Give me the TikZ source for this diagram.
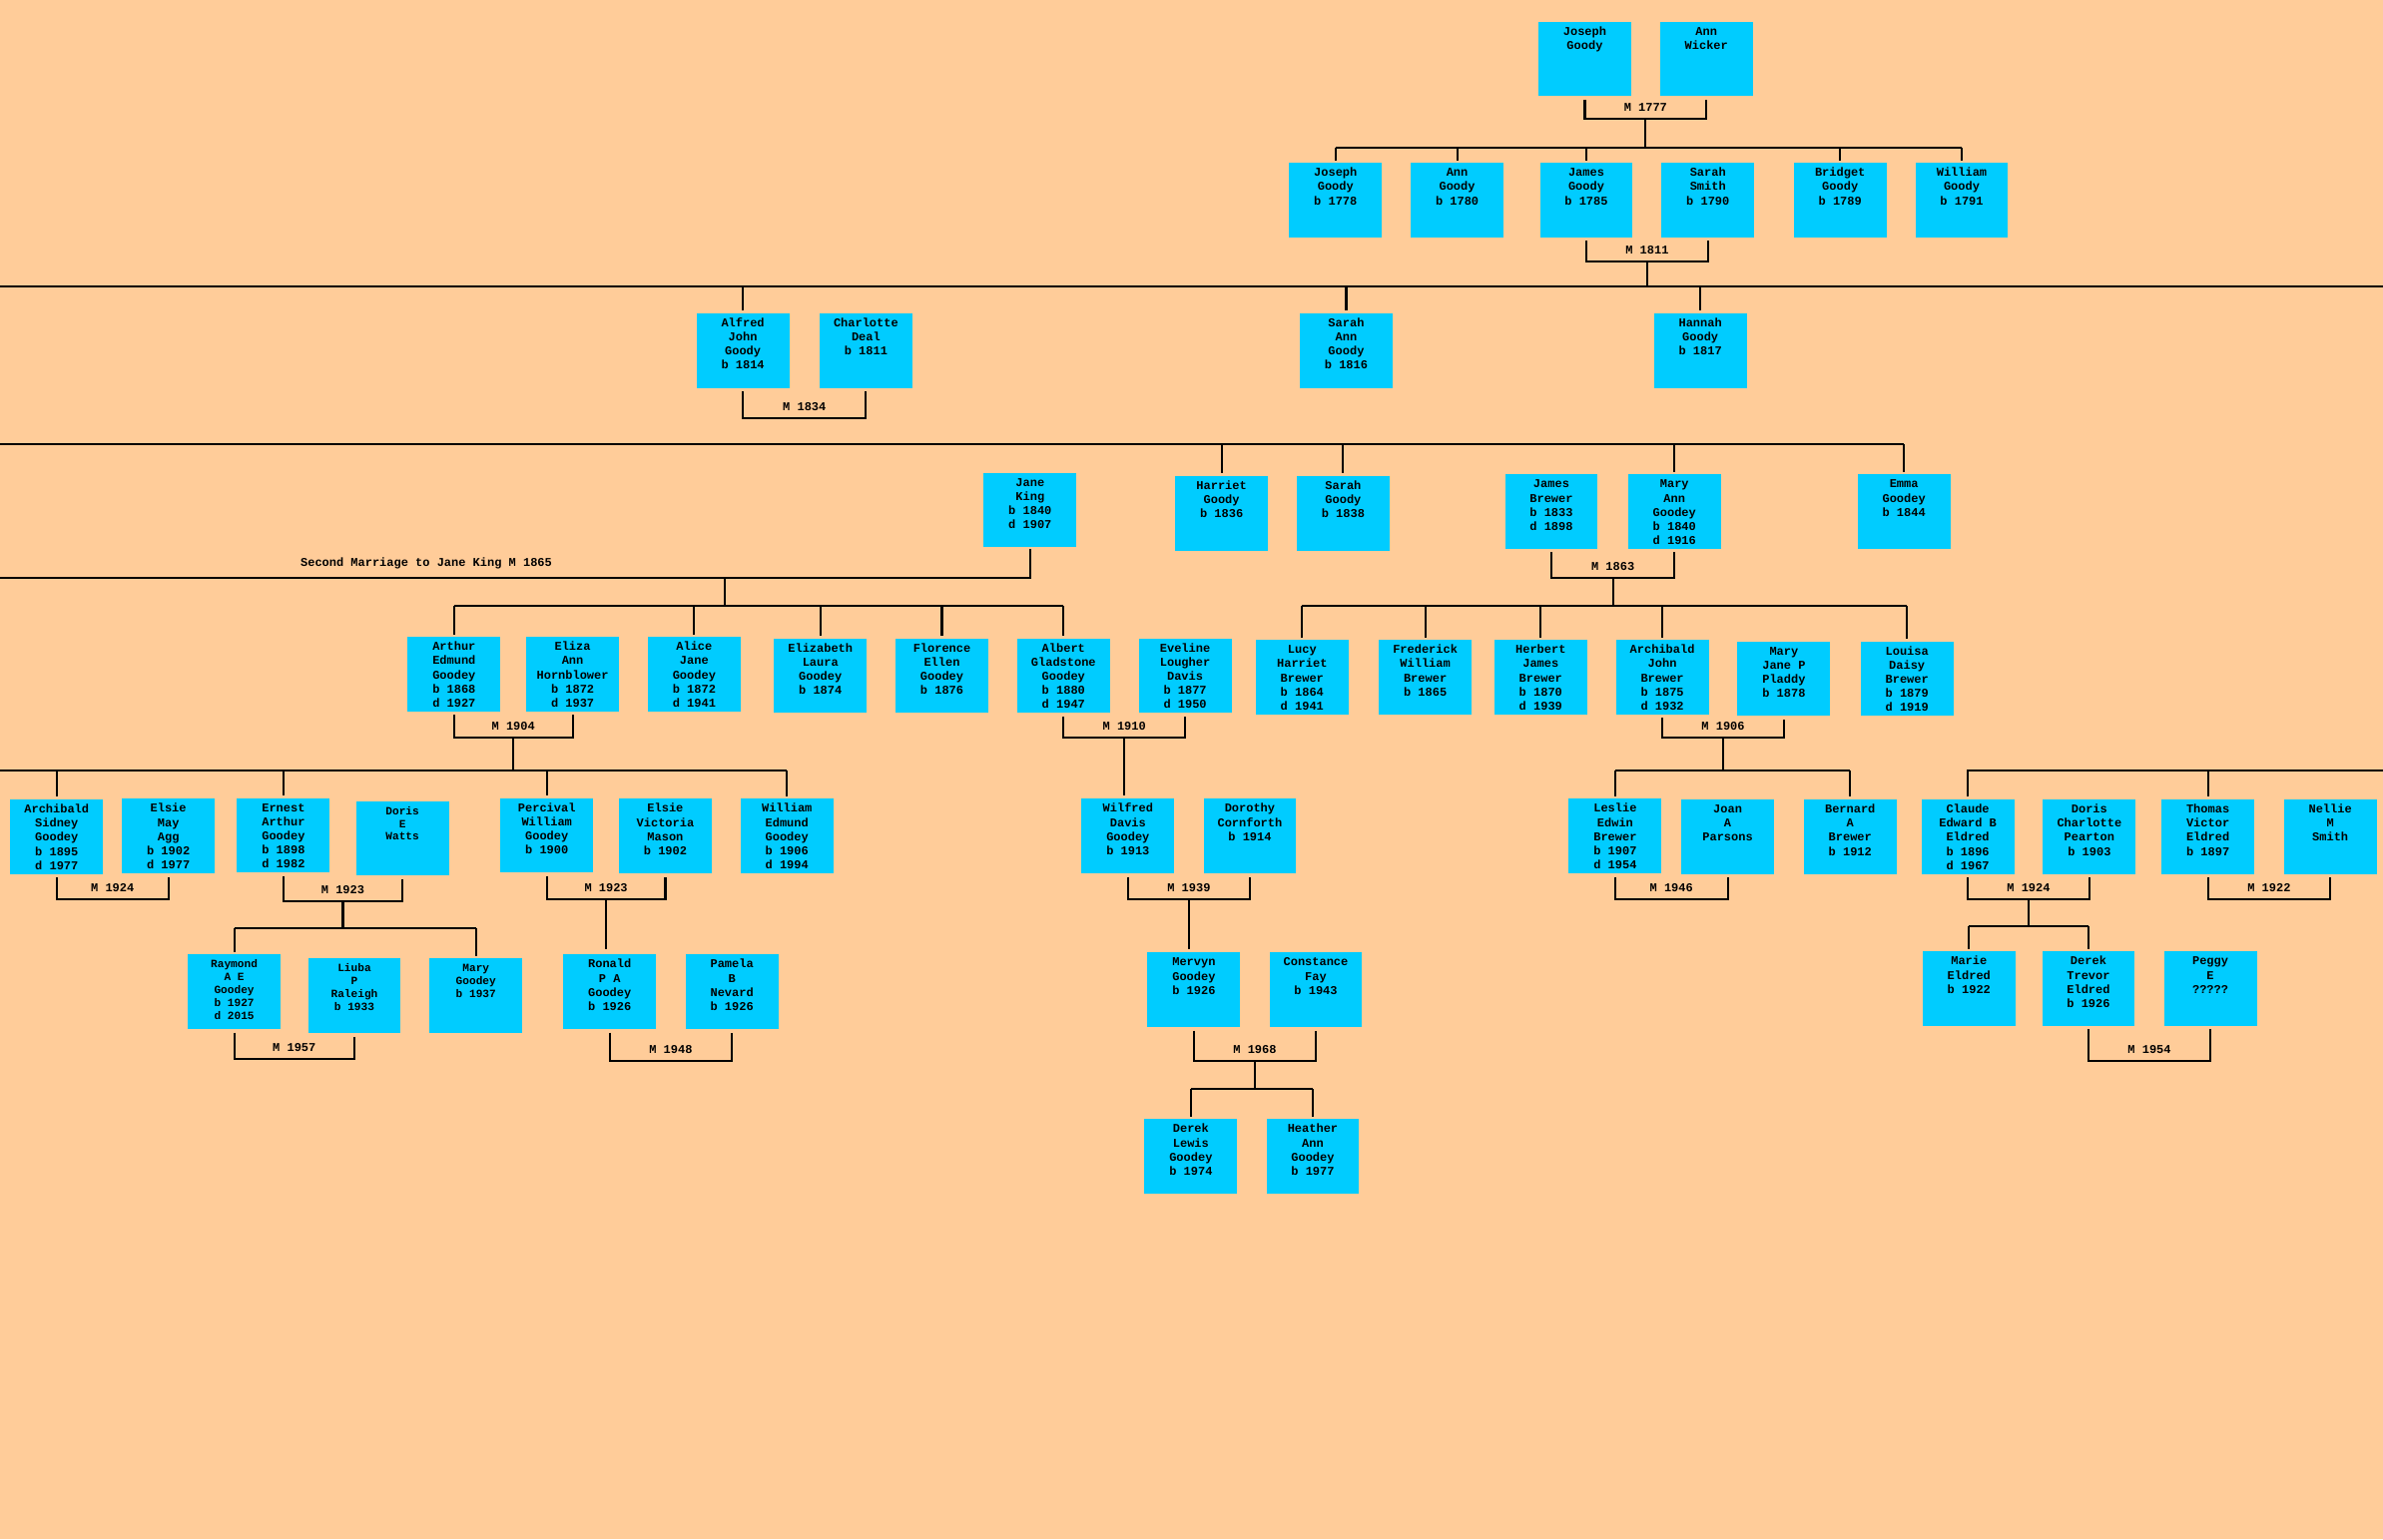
\documentclass[tikz,border=0pt]{standalone}
\usepackage{fontspec}
\newfontfamily\treefont{Liberation Mono}
\usetikzlibrary{calc}
\usetikzlibrary{positioning}

\definecolor{peach}{HTML}{FFCC99}
\definecolor{boxcyan}{HTML}{00CCFF}

% marriage bracket under two boxes, with its year
\newcommand{\wedding}[5]{%
    \draw[link] ($(#2.south)+(0,2)$) -- (#2.south |- 0,#4) -- (#3.south |- 0,#4) -- ($(#3.south)+(0,2)$);
    \coordinate (#1) at ($(#2.south |- 0,#4)!0.5!(#3.south |- 0,#4)$);
    \node[wedlabel] (#1label) at ($(#1)+(0,-7.5)$) {#5};
}
% drop from a sibling bar down to a box
\newcommand{\childdrop}[2]{%
    \draw[link] (#1.north |- #2) -- ($(#1.north)+(0,-1.5)$);
}

\begin{document}
\begin{tikzpicture}[x=0.025cm, y=-0.025cm]
        % Define styles
        \tikzstyle{person} = [fill=boxcyan, inner sep=0pt, anchor=north west, font=\treefont\bfseries\fontsize{5.6}{6.6}\selectfont, execute at begin node={\begin{minipage}[t][1.225cm][t]{1.525cm}\centering\rule{0pt}{6.3pt}}, execute at end node={\end{minipage}}]
        \tikzstyle{smallperson} = [person, font=\treefont\bfseries\fontsize{5.2}{6}\selectfont]
        \tikzstyle{wedlabel} = [inner sep=0pt, font=\treefont\bfseries\fontsize{5.6}{6.6}\selectfont]
        \tikzstyle{link} = [draw=black, line width=1pt]

        \useasboundingbox (0,0) rectangle (1568,1013);
        \fill[peach] (0,0) rectangle (1568,1013);

        % Generation 1
        \node[person] (jgoody1) at (1012, 14) {Joseph\\Goody};
        \node[person] (awicker) at (1092, 14) {Ann\\Wicker};

        % Generation 2
        \node[person] (jgoody2) at (848, 107) {Joseph\\Goody\\b 1778};
        \node[person] (agoody) at (928, 107) {Ann\\Goody\\b 1780};
        \node[person] (jamesg) at (1013, 107) {James\\Goody\\b 1785};
        \node[person] (sarahs) at (1093, 107) {Sarah\\Smith\\b 1790};
        \node[person] (bridget) at (1180, 107) {Bridget\\Goody\\b 1789};
        \node[person] (williamg) at (1260, 107) {William\\Goody\\b 1791};

        % Generation 3
        \node[person] (alfred) at (458, 206) {Alfred\\John\\Goody\\b 1814};
        \node[person] (charlotte) at (539, 206) {Charlotte\\Deal\\b 1811};
        \node[person] (sarahann) at (855, 206) {Sarah\\Ann\\Goody\\b 1816};
        \node[person] (hannah) at (1088, 206) {Hannah\\Goody\\b 1817};

        % Generation 4
        \node[person] (janeking) at (647, 311) {Jane\\King\\b 1840\\d 1907};
        \node[person] (harriet) at (773, 313) {Harriet\\Goody\\b 1836};
        \node[person] (sarahg) at (853, 313) {Sarah\\Goody\\b 1838};
        \node[person] (jamesb) at (990, 312) {James\\Brewer\\b 1833\\d 1898};
        \node[person] (maryann) at (1071, 312) {Mary\\Ann\\Goodey\\b 1840\\d 1916};
        \node[person] (emma) at (1222, 312) {Emma\\Goodey\\b 1844};

        % Generation 5
        \node[person] (arthur) at (268, 419) {Arthur\\Edmund\\Goodey\\b 1868\\d 1927};
        \node[person] (eliza) at (346, 419) {Eliza\\Ann\\Hornblower\\b 1872\\d 1937};
        \node[person] (alice) at (426, 419) {Alice\\Jane\\Goodey\\b 1872\\d 1941};
        \node[person] (elizabeth) at (509, 420) {Elizabeth\\Laura\\Goodey\\b 1874};
        \node[person] (florence) at (589, 420) {Florence\\Ellen\\Goodey\\b 1876};
        \node[person] (albert) at (669, 420) {Albert\\Gladstone\\Goodey\\b 1880\\d 1947};
        \node[person] (eveline) at (749, 420) {Eveline\\Lougher\\Davis\\b 1877\\d 1950};
        \node[person] (lucy) at (826, 421) {Lucy\\Harriet\\Brewer\\b 1864\\d 1941};
        \node[person] (frederick) at (907, 421) {Frederick\\William\\Brewer\\b 1865};
        \node[person] (herbert) at (983, 421) {Herbert\\James\\Brewer\\b 1870\\d 1939};
        \node[person] (archibaldb) at (1063, 421) {Archibald\\John\\Brewer\\b 1875\\d 1932};
        \node[person] (maryjane) at (1143, 422) {Mary\\Jane P\\Pladdy\\b 1878};
        \node[person] (louisa) at (1224, 422) {Louisa\\Daisy\\Brewer\\b 1879\\d 1919};

        % Generation 6
        \node[person] (archibalds) at (6.5, 526) {Archibald\\Sidney\\Goodey\\b 1895\\d 1977};
        \node[person] (elsiemay) at (80, 525.5) {Elsie\\May\\Agg\\b 1902\\d 1977};
        \node[person] (ernest) at (155.7, 525) {Ernest\\Arthur\\Goodey\\b 1898\\d 1982};
        \node[smallperson] (doris) at (234, 527) {Doris\\E\\Watts};
        \node[person] (percival) at (329, 525) {Percival\\William\\Goodey\\b 1900};
        \node[person] (elsiev) at (407, 525.5) {Elsie\\Victoria\\Mason\\b 1902};
        \node[person] (williame) at (487, 525.5) {William\\Edmund\\Goodey\\b 1906\\d 1994};
        \node[person] (wilfred) at (711.4, 525.5) {Wilfred\\Davis\\Goodey\\b 1913};
        \node[person] (dorothy) at (791.6, 525.5) {Dorothy\\Cornforth\\b 1914};
        \node[person] (leslie) at (1032, 525.5) {Leslie\\Edwin\\Brewer\\b 1907\\d 1954};
        \node[person] (joan) at (1106, 526) {Joan\\A\\Parsons};
        \node[person] (bernard) at (1186.6, 526) {Bernard\\A\\Brewer\\b 1912};
        \node[person] (claude) at (1264, 526) {Claude\\Edward B\\Eldred\\b 1896\\d 1967};
        \node[person] (dorisc) at (1344, 526) {Doris\\Charlotte\\Pearton\\b 1903};
        \node[person] (thomas) at (1422, 526) {Thomas\\Victor\\Eldred\\b 1897};
        \node[person] (nellie) at (1502.5, 526) {Nellie\\M\\Smith};

        % Generation 7
        \node[smallperson] (raymond) at (123.3, 628) {Raymond\\A E\\Goodey\\b 1927\\d 2015};
        \node[smallperson] (liuba) at (202.4, 630.6) {Liuba\\P\\Raleigh\\b 1933};
        \node[smallperson] (mary) at (282.4, 630.6) {Mary\\Goodey\\b 1937};
        \node[person] (ronald) at (370.4, 628) {Ronald\\P A\\Goodey\\b 1926};
        \node[person] (pamela) at (450.8, 628) {Pamela\\B\\Nevard\\b 1926};
        \node[person] (mervyn) at (754.8, 626.7) {Mervyn\\Goodey\\b 1926};
        \node[person] (constance) at (835, 626.7) {Constance\\Fay\\b 1943};
        \node[person] (marie) at (1264.8, 626) {Marie\\Eldred\\b 1922};
        \node[person] (derekt) at (1343.4, 626) {Derek\\Trevor\\Eldred\\b 1926};
        \node[person] (peggy) at (1423.6, 626) {Peggy\\E\\?????};

        % Generation 8
        \node[person] (derekl) at (752.8, 736.4) {Derek\\Lewis\\Goodey\\b 1974};
        \node[person] (heather) at (833, 736.4) {Heather\\Ann\\Goodey\\b 1977};

        % Free ends at the edges of the sheet
        \coordinate (westa) at (0, 188.3);
        \coordinate (easta) at (1568, 188.3);
        \coordinate (westb) at (0, 292.3);
        \coordinate (westc) at (0, 380.5);
        \coordinate (westd) at (0, 507);
        \coordinate (eastd) at (1568, 507);

        % Joseph and Ann
        \wedding{w1777}{jgoody1}{awicker}{78.4}{M 1777}
        \draw[link] (w1777) -- ++(0, 18.6) coordinate (k1777);
        \draw[link] (jgoody2.north |- k1777) -- (williamg.north |- k1777);
        \childdrop{jgoody2}{k1777}
        \childdrop{agoody}{k1777}
        \childdrop{jamesg}{k1777}
        \childdrop{bridget}{k1777}
        \childdrop{williamg}{k1777}

        % James and Sarah
        \wedding{w1811}{jamesg}{sarahs}{172}{M 1811}
        \draw[link] (w1811) -- (w1811 |- westa);
        \draw[link] (westa) -- (easta);
        \childdrop{alfred}{westa}
        \childdrop{sarahann}{westa}
        \childdrop{hannah}{westa}

        % Alfred and Charlotte
        \wedding{w1834}{alfred}{charlotte}{275}{M 1834}
        \draw[link] (westb) -- (emma.north |- westb);
        \childdrop{harriet}{westb}
        \childdrop{sarahg}{westb}
        \childdrop{maryann}{westb}
        \childdrop{emma}{westb}

        % Second marriage to Jane King
        \draw[link] ($(janeking.south)+(0,1)$) |- (westc);
        \node[wedlabel] (second) at (280.5, 371) {Second Marriage to Jane King M 1865};
        \coordinate (k1865) at (476.8, 380.5);
        \draw[link] (k1865) -- ++(0, 18.5) coordinate (b1865);
        \draw[link] (arthur.north |- b1865) -- (albert.north |- b1865);
        \childdrop{arthur}{b1865}
        \childdrop{alice}{b1865}
        \childdrop{elizabeth}{b1865}
        \childdrop{florence}{b1865}
        \childdrop{albert}{b1865}

        % James Brewer and Mary Ann
        \wedding{w1863}{jamesb}{maryann}{380.4}{M 1863}
        \draw[link] (w1863) -- ++(0, 18.6) coordinate (k1863);
        \draw[link] (lucy.north |- k1863) -- (louisa.north |- k1863);
        \childdrop{lucy}{k1863}
        \childdrop{frederick}{k1863}
        \childdrop{herbert}{k1863}
        \childdrop{archibaldb}{k1863}
        \childdrop{louisa}{k1863}

        % Arthur and Eliza
        \wedding{w1904}{arthur}{eliza}{485.7}{M 1904}
        \draw[link] (w1904) -- (w1904 |- westd);
        \draw[link] (westd) -- (williame.north |- westd);
        \childdrop{archibalds}{westd}
        \childdrop{ernest}{westd}
        \childdrop{percival}{westd}
        \childdrop{williame}{westd}

        % Albert and Eveline
        \wedding{w1910}{albert}{eveline}{485.7}{M 1910}
        \draw[link] (w1910) -- ($(w1910 |- wilfred.north)+(0,-2)$);

        % Archibald and Mary Jane
        \wedding{w1906}{archibaldb}{maryjane}{485.7}{M 1906}
        \draw[link] (w1906) -- (w1906 |- westd) coordinate (k1906);
        \draw[link] (leslie.north |- k1906) -- (bernard.north |- k1906);
        \childdrop{leslie}{k1906}
        \childdrop{bernard}{k1906}

        % Eldred line on the right
        \draw[link] ($(claude.north)+(0,-1.5)$) |- (eastd);
        \childdrop{thomas}{eastd}

        % Generation 6 marriages
        \wedding{w1924a}{archibalds}{elsiemay}{591.7}{M 1924}
        \wedding{w1923a}{ernest}{doris}{593.4}{M 1923}
        \draw[link] (w1923a) -- ++(0, 17.6) coordinate (k1923a);
        \draw[link] (raymond.north |- k1923a) -- (mary.north |- k1923a);
        \childdrop{raymond}{k1923a}
        \childdrop{mary}{k1923a}
        \wedding{w1923b}{percival}{elsiev}{591.7}{M 1923}
        \draw[link] (w1923b) -- ($(w1923b |- ronald.north)+(0,-3)$);
        \wedding{w1939}{wilfred}{dorothy}{591.7}{M 1939}
        \draw[link] (w1939) -- ($(w1939 |- mervyn.north)+(0,-2)$);
        \wedding{w1946}{leslie}{joan}{591.7}{M 1946}
        \wedding{w1924b}{claude}{dorisc}{591.9}{M 1924}
        \draw[link] (w1924b) -- ++(0, 17.5) coordinate (k1924b);
        \draw[link] (marie.north |- k1924b) -- (derekt.north |- k1924b);
        \childdrop{marie}{k1924b}
        \childdrop{derekt}{k1924b}
        \wedding{w1922}{thomas}{nellie}{591.7}{M 1922}

        % Generation 7 marriages
        \wedding{w1957}{raymond}{liuba}{696.8}{M 1957}
        \wedding{w1948}{ronald}{pamela}{698}{M 1948}
        \wedding{w1968}{mervyn}{constance}{698}{M 1968}
        \draw[link] (w1968) -- ++(0, 18.7) coordinate (k1968);
        \draw[link] (derekl.north |- k1968) -- (heather.north |- k1968);
        \childdrop{derekl}{k1968}
        \childdrop{heather}{k1968}
        \wedding{w1954}{derekt}{peggy}{698}{M 1954}
    \end{tikzpicture}
\end{document}
